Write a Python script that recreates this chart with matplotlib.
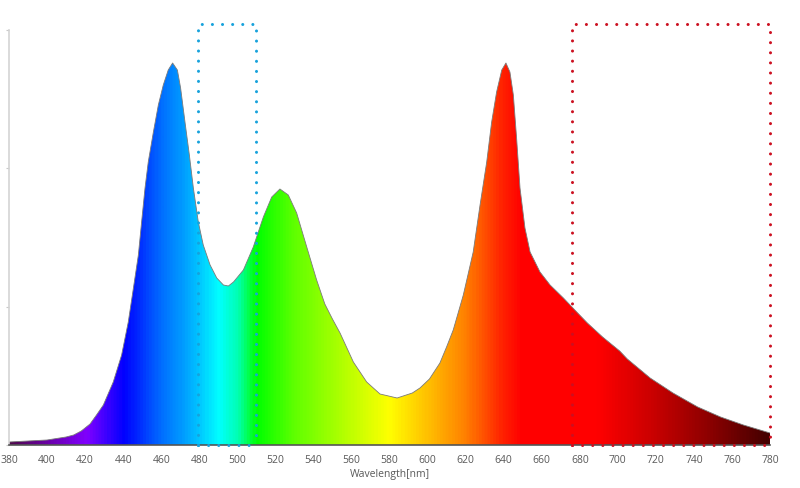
import numpy as np
import matplotlib
matplotlib.use("Agg")
import matplotlib.pyplot as plt
from matplotlib.colors import LinearSegmentedColormap

# Spectrum (relative intensity, pixel-height units)
wavelength = [380, 390, 400, 410, 414, 418, 422.6, 426, 429.6, 434.8, 439.2, 442.7, 445.4,
              448, 449.7, 451.5, 453.2, 455.9, 458.5, 461.1, 463.7, 466, 468.5, 470.2,
              472.5, 474.8, 476.9, 479.5, 482.1, 485.7, 489.2, 492.7, 495.3, 498, 503.2,
              508.4, 513.7, 518.1, 522.4, 526.8, 531.2, 536.5, 541.7, 546, 550, 554, 561,
              568, 575, 584, 592, 596, 601, 606.5, 610, 613.5, 618.8, 624, 627.6, 631.1,
              633.7, 636.3, 639, 641.2, 643.3, 645.1, 646.8, 648.6, 651.2, 653.9, 659.1,
              664.4, 671.4, 678.4, 684, 692, 701, 705, 717, 729, 742, 754, 766, 780]
intensity = [3, 4, 5, 8, 10, 14, 21, 30, 40, 63, 90, 123, 157,
             190, 223, 257, 283, 313, 340, 360, 375, 382, 375, 357,
             323, 290, 257, 223, 200, 180, 167, 160, 159, 163, 175,
             198, 228, 248, 256, 250, 232, 198, 165, 141, 126, 112, 83,
             63, 51, 47, 52, 57, 66, 82, 98, 115, 150, 193, 240, 283,
             323, 353, 375, 382, 373, 350, 307, 257, 217, 193, 173,
             160, 147, 133, 122, 108, 94, 86, 67, 52, 38, 28, 20, 12]
x_ticks = list(range(380, 781, 20))
x_label = "Wavelength[nm]"
# highlighted bands (nm)
blue_band = (479.5, 510)
red_band = (676, 780)

# spectral colour stops for the gradient fill
stop_wl = [380, 400, 420, 440, 460, 470, 480, 490, 500, 510, 530, 560, 580, 600, 620,
           640, 650, 690, 720, 750, 780]
stop_col = ["#50084e", "#6a00a8", "#8000ff", "#0000ff", "#0070ff", "#0098ff", "#00c8ff",
            "#00ffff", "#00ffb0", "#00ff00", "#60ff00", "#c0ff00", "#ffff00", "#ffc000",
            "#ff8000", "#ff2000", "#ff0000", "#ff0000", "#c80000", "#8a0000", "#440000"]

wl = np.array(wavelength, dtype=float)
y = np.array(intensity, dtype=float) / max(intensity)
ytop = 415 / 382
rect_top = 421 / 382

fig = plt.figure(figsize=(8, 4.88), dpi=100)
ax = fig.add_axes([9 / 800, 43 / 488, 761 / 800, 415 / 488])

pos = [(w - 380) / 400 for w in stop_wl]
cmap = LinearSegmentedColormap.from_list("spec", list(zip(pos, stop_col)))
grad = np.linspace(380, 780, 800)[None, :]
im = ax.imshow(grad, extent=[380, 780, 0, ytop], aspect="auto", cmap=cmap,
               vmin=380, vmax=780, origin="lower", zorder=1, interpolation="bilinear")
poly = ax.fill_between(wl, 0, y, color="none", lw=0)
im.set_clip_path(poly.get_paths()[0], transform=ax.transData)
ax.plot(wl, y, color="#7a7a7a", lw=0.6, zorder=2, solid_joinstyle="round")

dot = (0, (0.01, 3.3))
for (a, b), c in [(blue_band, "#17a2dc"), (red_band, "#cc1020")]:
    ax.plot([a, a, b, b], [0, rect_top, rect_top, 0], color=c, lw=2.2,
            linestyle=dot, dash_capstyle="round", clip_on=False, zorder=3)
    ax.plot([a, b], [0, 0], color=c, lw=2.2, linestyle=dot,
            dash_capstyle="round", clip_on=False, zorder=4)

ax.set_xlim(380, 780)
ax.set_ylim(0, ytop)
ax.set_xticks(x_ticks)
ax.set_xticklabels([str(t) for t in x_ticks], fontsize=7.5, color="#595959",
                   family="Open Sans")
ax.tick_params(axis="x", length=0, pad=7)
ax.set_yticks(np.linspace(0, ytop, 4))
ax.set_yticklabels([])
ax.tick_params(axis="y", length=2, color="#c8c8c8", pad=0)
ax.set_xlabel(x_label, fontsize=7.5, color="#595959", family="Open Sans", labelpad=2)
for s in ["top", "right"]:
    ax.spines[s].set_visible(False)
ax.spines["left"].set_color("#d4d4d4")
ax.spines["left"].set_linewidth(1.2)
ax.spines["bottom"].set_color("#555555")
ax.spines["bottom"].set_linewidth(1.2)
ax.spines["bottom"].set_zorder(2.5)

fig.savefig("out.png", dpi=100)
